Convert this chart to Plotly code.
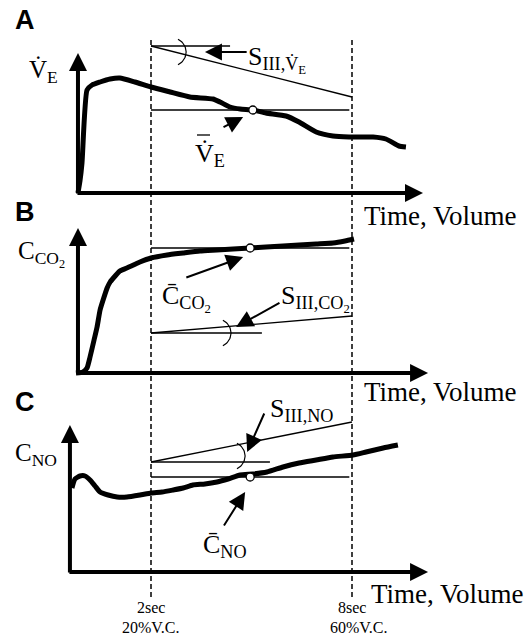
import numpy as np
import plotly.graph_objects as go

# ---------------- data (time in s, signal in arbitrary units) ----------------
ve_t = [-0.18, -0.12, -0.06, 0.09, 0.24, 0.48, 0.78, 1.07, 1.52, 2.0, 2.57, 3.16, 3.85, 4.06,
        4.36, 4.66, 5.04, 5.43, 6.03, 6.42, 6.93, 7.43, 7.91, 8.63, 9.01, 9.40, 9.61]
ve_v = [0.0, 0.12, 0.30, 1.03, 1.08, 1.11, 1.14, 1.15, 1.11, 1.06, 1.01, 0.96, 0.94, 0.91,
        0.86, 0.84, 0.83, 0.80, 0.77, 0.71, 0.61, 0.57, 0.56, 0.56, 0.54, 0.47, 0.46]

co2_t = [-0.24, -0.03, 0.09, 0.18, 0.30, 0.39, 0.48, 0.57, 0.69, 0.78, 0.93, 1.07, 1.28, 1.67,
         2.0, 2.48, 2.96, 3.46, 3.97, 4.45, 4.96, 5.43, 5.94, 6.42, 6.93, 7.43, 7.79, 8.06]
co2_v = [0.0, 0.01, 0.05, 0.16, 0.33, 0.46, 0.63, 0.73, 0.85, 0.91, 0.97, 1.02, 1.05, 1.11,
         1.15, 1.18, 1.20, 1.22, 1.23, 1.24, 1.25, 1.26, 1.27, 1.28, 1.29, 1.30, 1.32, 1.34]

no_t = [-0.36, -0.27, -0.12, 0.03, 0.18, 0.33, 0.48, 0.72, 0.99, 1.28, 1.67, 2.0, 2.33, 2.66,
        2.96, 3.25, 3.61, 3.97, 4.30, 4.66, 5.04, 5.46, 5.94, 6.42, 6.93, 7.43, 8.03, 8.42,
        8.93, 9.37]
no_v = [0.84, 0.93, 0.96, 0.96, 0.92, 0.86, 0.80, 0.77, 0.75, 0.75, 0.77, 0.79, 0.80, 0.82,
        0.84, 0.87, 0.88, 0.90, 0.93, 0.97, 0.98, 1.00, 1.05, 1.09, 1.12, 1.15, 1.17, 1.20,
        1.24, 1.27]

window = [2.0, 8.0]                 # phase III window (s)
window_labels = [("2sec", "20%V.C."), ("8sec", "60%V.C.")]

mean_t = [5.04, 4.96, 4.96]         # location of mean marker
mean_v = [0.83, 1.25, 0.95]         # mean value (A, B, C)
slope_v0 = [1.47, 0.40, 1.10]       # slope line start value at t=2
slope_v1 = [0.96, 0.57, 1.50]       # slope line end value at t=8
slope_h_end = [4.36, 5.31, 5.55]    # extent of horizontal reference line

# ---------------- layout helpers (pixel geometry) ----------------
W, H = 532, 639
X0, SX, SY = 84.0, 33.5, 100.0
BASE = [193, 373, 572]              # baseline pixel rows of panels A, B, C
yrefs = ["y", "y2", "y3"]

def px_x(t):
    return X0 + SX * t

def paper(px, py):
    return px / W, 1 - py / H

fig = go.Figure()
BLACK = "black"
SERIF = "Liberation Serif"

curves = [(ve_t, ve_v), (co2_t, co2_v), (no_t, no_v)]
for i, (t, v) in enumerate(curves):
    fig.add_trace(go.Scatter(x=t, y=v, yaxis=yrefs[i], mode="lines",
                             line=dict(color=BLACK, width=5, shape="spline", smoothing=0.5),
                             hoverinfo="skip"))
    # mean horizontal line
    fig.add_trace(go.Scatter(x=[window[0], window[1] - 0.08], y=[mean_v[i]] * 2, yaxis=yrefs[i],
                             mode="lines", line=dict(color=BLACK, width=1.3), hoverinfo="skip"))
    # slope line and horizontal reference
    fig.add_trace(go.Scatter(x=[window[0], window[1]], y=[slope_v0[i], slope_v1[i]], yaxis=yrefs[i],
                             mode="lines", line=dict(color=BLACK, width=1.3), hoverinfo="skip"))
    fig.add_trace(go.Scatter(x=[window[0], slope_h_end[i]], y=[slope_v0[i]] * 2, yaxis=yrefs[i],
                             mode="lines", line=dict(color=BLACK, width=1.3), hoverinfo="skip"))
    # mean marker
    fig.add_trace(go.Scatter(x=[mean_t[i]], y=[mean_v[i]], yaxis=yrefs[i], mode="markers",
                             marker=dict(color="white", size=8, line=dict(color=BLACK, width=1.3)),
                             hoverinfo="skip"))

# angle arcs ")" marking the slope
arc_c = [(2.63, 1.41), (3.97, 0.40), (4.39, 1.16)]
ang = np.linspace(-65, 65, 30) * np.pi / 180
for i, (tc, vc) in enumerate(arc_c):
    r = 14
    fig.add_trace(go.Scatter(x=tc + r / SX * np.cos(ang), y=vc + r / SY * np.sin(ang),
                             yaxis=yrefs[i], mode="lines", line=dict(color=BLACK, width=1.2),
                             hoverinfo="skip"))

annotations = []

# axes as arrows
axis_x = [-0.18, -0.18, -0.42]
axis_ytop = [1.40, 1.45, 1.47]
axis_xtip = [10.12, 10.27, 10.27]
for i in range(3):
    annotations.append(dict(x=axis_x[i], y=axis_ytop[i], ax=axis_x[i], ay=-0.02, xref="x", yref=yrefs[i],
                            axref="x", ayref=yrefs[i], text="", showarrow=True, arrowhead=2,
                            arrowsize=0.9, arrowwidth=4, arrowcolor=BLACK, standoff=0, startstandoff=0))
    annotations.append(dict(x=axis_xtip[i], y=0, ax=axis_x[i] - 0.06, ay=0, xref="x", yref=yrefs[i],
                            axref="x", ayref=yrefs[i], text="", showarrow=True, arrowhead=2,
                            arrowsize=0.9, arrowwidth=4, arrowcolor=BLACK, standoff=0, startstandoff=0))

# pointer arrows (head, tail)
pointers = [
    (0, (3.61, 1.41), (4.90, 1.41)),
    (0, (4.75, 0.76), (4.12, 0.65)),
    (1, (4.75, 1.16), (3.01, 0.95)),
    (1, (4.54, 0.46), (5.88, 0.71)),
    (2, (4.87, 1.20), (5.40, 1.60)),
    (2, (4.81, 0.80), (4.15, 0.45)),
]
for i, (hx, hy), (tx, ty) in pointers:
    annotations.append(dict(x=hx, y=hy, ax=tx, ay=ty, xref="x", yref=yrefs[i], axref="x",
                            ayref=yrefs[i], text="", showarrow=True, arrowhead=2, arrowsize=1.7,
                            arrowwidth=2, arrowcolor=BLACK, standoff=0))

def label(text, px, py, size, family=SERIF, xanchor="left", bold=False):
    x, y = paper(px, py)
    if bold:
        text = "<b>" + text + "</b>"
    annotations.append(dict(x=x, y=y, xref="paper", yref="paper", text=text, showarrow=False,
                            xanchor=xanchor, yanchor="middle",
                            font=dict(family=family, size=size, color=BLACK)))

for letter, py in zip(["A", "B", "C"], [20, 212, 402]):
    label(letter, 25, py, 27, family="Liberation Sans", xanchor="center", bold=True)

label("V\u0307<sub>E</sub>", 27, 72, 25)
label("C<sub>CO<sub>2</sub></sub>", 16, 254, 25)
label("C<sub>NO</sub>", 13, 454, 25)

label("S<sub>III,V\u0307<sub>E</sub></sub>", 246, 59, 26)
label("V\u0307<sub>E</sub>", 193, 155, 26)
label("C\u0304<sub>CO<sub>2</sub></sub>", 160, 298, 26)
label("S<sub>III,CO<sub>2</sub></sub>", 279, 298, 26)
label("S<sub>III,NO</sub>", 268, 410, 26)
label("C\u0304<sub>NO</sub>", 201, 546, 26)

for py in [216, 392]:
    label("Time, Volume", 440, py, 27, xanchor="center")
label("Time, Volume", 447, 594, 27, xanchor="center")

for t, (l1, l2) in zip(window, window_labels):
    label(l1, px_x(t), 607, 16, xanchor="center")
    label(l2, px_x(t) + (0 if t < 5 else 7), 627, 16, xanchor="center")

shapes = []
# dashed window lines
for t in window:
    shapes.append(dict(type="line", xref="x", yref="paper", x0=t, x1=t,
                       y0=1 - 597 / H, y1=1 - 37 / H,
                       line=dict(color=BLACK, width=1.5, dash="5px,3px")))
# bar over the mean V-dot symbol
bx0, by = paper(197, 135)
bx1, _ = paper(210, 135)
shapes.append(dict(type="line", xref="paper", yref="paper", x0=bx0, x1=bx1, y0=by, y1=by,
                   line=dict(color=BLACK, width=1.3)))

def yrange(base):
    return [(base - H) / SY, base / SY]

fig.update_layout(
    width=W, height=H, margin=dict(l=0, r=0, t=0, b=0),
    paper_bgcolor="white", plot_bgcolor="white", showlegend=False,
    xaxis=dict(range=[(0 - X0) / SX, (W - X0) / SX], visible=False, fixedrange=True),
    yaxis=dict(range=yrange(BASE[0]), visible=False, fixedrange=True),
    yaxis2=dict(range=yrange(BASE[1]), visible=False, overlaying="y", fixedrange=True),
    yaxis3=dict(range=yrange(BASE[2]), visible=False, overlaying="y", fixedrange=True),
    annotations=annotations, shapes=shapes,
)

fig.write_html("out.html")
